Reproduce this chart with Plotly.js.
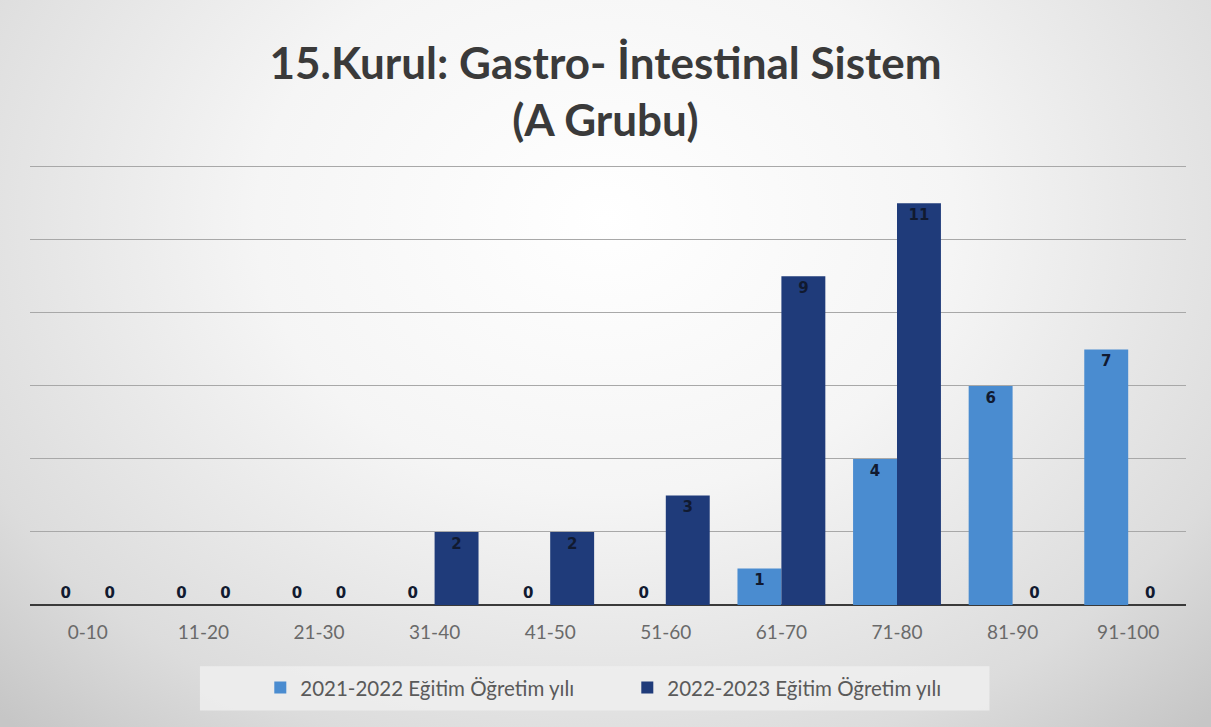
<!DOCTYPE html>
<html>
<head>
<meta charset="utf-8">
<script src="https://cdn.plot.ly/plotly-3.0.1.min.js"></script>
<style>
html,body{margin:0;padding:0;}
body{width:1211px;height:727px;background:radial-gradient(ellipse 72% 95% at 50% 30%, #ffffff 0%, #f5f5f5 40%, #dcdcdc 80%, #c6c6c6 100%);}
#chart{width:1211px;height:727px;}
</style>
</head>
<body>
<div id="chart"></div>
<script>
const categories = ["0-10","11-20","21-30","31-40","41-50","51-60","61-70","71-80","81-90","91-100"];
const series2021 = [0,0,0,0,0,0,1,4,6,7];
const series2022 = [0,0,0,2,2,3,9,11,0,0];
const seriesNames = ["2021-2022 Eğitim Öğretim yılı","2022-2023 Eğitim Öğretim yılı"];
const titleText = "15.Kurul: Gastro- İntestinal Sistem<br>(A Grubu)";

function positions(vals){ return vals.map(v => v === 0 ? "outside" : "inside"); }

const labelFont = {family:"DejaVu Sans, sans-serif", size:15, color:"#111a30", weight:"bold"};

const traces = [
  {type:"bar", name:seriesNames[0], x:categories, y:series2021,
   marker:{color:"#4a8cd0"}, text:series2021.map(String),
   textposition:positions(series2021), insidetextanchor:"end",
   constraintext:"none", textfont:labelFont, cliponaxis:false, hoverinfo:"none"},
  {type:"bar", name:seriesNames[1], x:categories, y:series2022,
   marker:{color:"#1f3b7a"}, text:series2022.map(String),
   textposition:positions(series2022), insidetextanchor:"end",
   constraintext:"none", textfont:labelFont, cliponaxis:false, hoverinfo:"none"}
];

const layout = {
  width:1211, height:727,
  paper_bgcolor:"rgba(0,0,0,0)", plot_bgcolor:"rgba(0,0,0,0)",
  margin:{l:30, r:25, t:165, b:122, autoexpand:false},
  title:{text:titleText, x:0.5, xanchor:"center", yref:"container", y:0.892, yanchor:"middle",
    font:{family:"Lato, 'Open Sans', sans-serif", size:44, color:"#3a3a3a", weight:"bold"}},
  barmode:"group", bargap:0.24, bargroupgap:0,
  xaxis:{type:"category", showgrid:false, zeroline:false, showline:false,
    ticks:"", tickfont:{family:"Lato, 'Open Sans', sans-serif", size:19, color:"#6a6a6a"}, ticklabelstandoff:14},
  yaxis:{range:[0,12.05], dtick:2, showticklabels:false, showgrid:true,
    gridcolor:"#a8a8a8", gridwidth:1, zeroline:true, zerolinecolor:"#3a3a3a", zerolinewidth:2, showline:false},
  legend:{orientation:"h", xref:"container", x:0.518, xanchor:"center", yref:"container", y:0.054, yanchor:"middle",
    bgcolor:"rgba(0,0,0,0)", font:{family:"Lato, 'Open Sans', sans-serif", size:20.5, color:"#5a5a5a"},
    entrywidth:322, entrywidthmode:"pixels", itemwidth:30, tracegroupgap:0},
  shapes:[{type:"rect", xref:"paper", yref:"paper", x0:0.147, x1:0.830, y0:-0.240, y1:-0.139,
    fillcolor:"rgba(238,238,238,0.85)", line:{width:0}, layer:"below"}],
  showlegend:true
};

Plotly.newPlot("chart", traces, layout, {displayModeBar:false, staticPlot:true});
</script>
</body>
</html>
